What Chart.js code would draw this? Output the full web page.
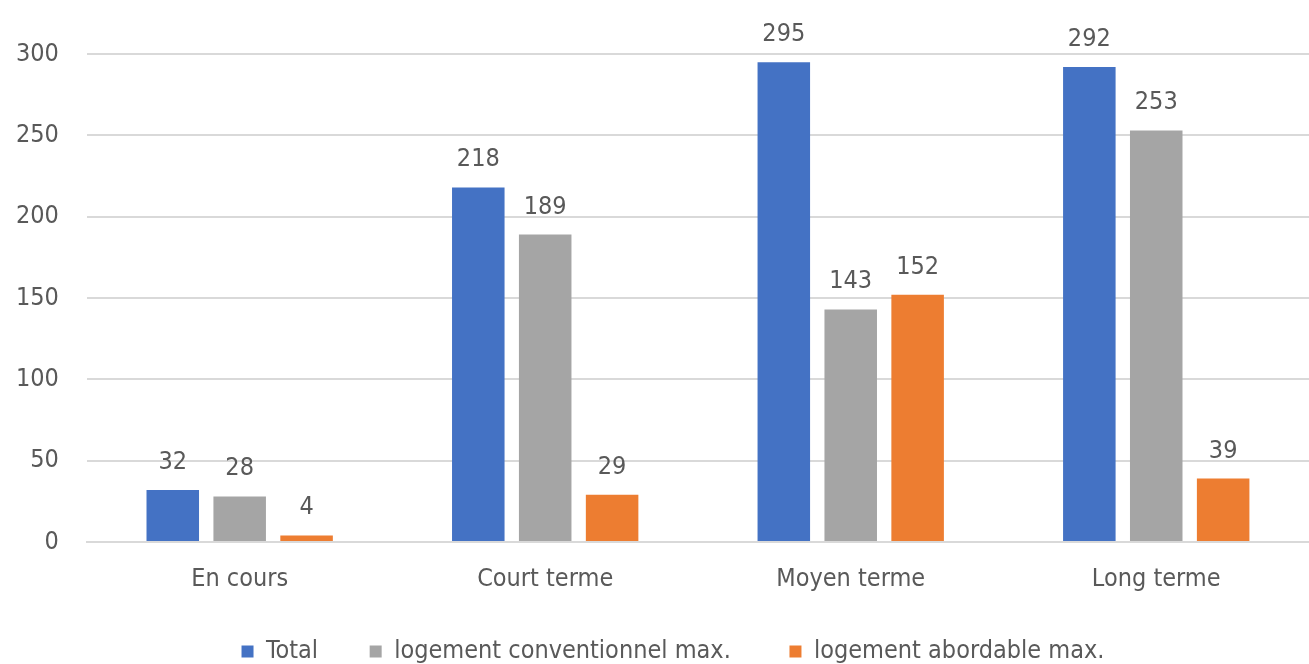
<!DOCTYPE html>
<html>
<head>
<meta charset="utf-8">
<script src="https://cdn.jsdelivr.net/npm/chart.js@4"></script>
<style>
  html, body { margin: 0; padding: 0; background: #fff; }
  #wrap { width: 1309px; height: 664px; }
</style>
</head>
<body>
<div id="wrap"><canvas id="chart"></canvas></div>
<script>
var categories = ['En cours', 'Court terme', 'Moyen terme', 'Long terme'];
var totalValues = [32, 218, 295, 292];
var conventionnelValues = [28, 189, 143, 253];
var abordableValues = [4, 29, 152, 39];
var yTicks = [0, 50, 100, 150, 200, 250, 300];

var fontFamily = '"Liberation Sans Narrow", "DejaVu Sans Condensed", "Liberation Sans", sans-serif';
var textColor = '#595959';

// draws the value above each bar
var valueLabels = {
  id: 'valueLabels',
  afterDatasetsDraw: function(chart) {
    var ctx = chart.ctx;
    ctx.save();
    ctx.font = '25px ' + fontFamily;
    ctx.fillStyle = textColor;
    ctx.textAlign = 'center';
    ctx.textBaseline = 'alphabetic';
    chart.data.datasets.forEach(function(ds, i) {
      chart.getDatasetMeta(i).data.forEach(function(bar, j) {
        ctx.fillText(ds.data[j], bar.x, bar.y - 21);
      });
    });
    ctx.restore();
  }
};

// legend spacing: Chart.js uses one padding for both gaps, so pad the text instead
var legendGaps = ['    ', '     ', '       '];

new Chart(document.getElementById('chart'), {
  type: 'bar',
  data: {
    labels: categories,
    datasets: [
      { label: 'Total', data: totalValues, backgroundColor: '#4472c4' },
      { label: 'logement conventionnel max.', data: conventionnelValues, backgroundColor: '#a5a5a5' },
      { label: 'logement abordable max.', data: abordableValues, backgroundColor: '#ed7d31' }
    ]
  },
  options: {
    responsive: true,
    maintainAspectRatio: false,
    animation: false,
    categoryPercentage: 0.657,
    barPercentage: 0.785,
    layout: { padding: { top: 54, right: -7, left: -12, bottom: -10 } },
    plugins: {
      legend: {
        position: 'bottom',
        fullSize: false,
        labels: {
          font: { family: fontFamily, size: 25 },
          color: textColor,
          boxWidth: 12,
          boxHeight: 12,
          padding: 23,
          generateLabels: function(chart) {
            var items = Chart.defaults.plugins.legend.labels.generateLabels(chart);
            items.forEach(function(item, i) { item.text = item.text + legendGaps[i]; });
            return items;
          }
        }
      },
      tooltip: { enabled: false }
    },
    scales: {
      x: {
        grid: { display: false, drawTicks: false },
        border: { color: '#d9d9d9', width: 2 },
        ticks: { font: { family: fontFamily, size: 25 }, color: textColor, padding: 22 }
      },
      y: {
        min: 0,
        max: 300,
        afterBuildTicks: function(axis) {
          axis.ticks = yTicks.map(function(v) { return { value: v }; });
        },
        grid: { color: '#d9d9d9', lineWidth: 2, drawTicks: false },
        border: { display: false },
        ticks: { font: { family: fontFamily, size: 25 }, color: textColor, padding: 28 }
      }
    }
  },
  plugins: [valueLabels]
});
</script>
</body>
</html>
